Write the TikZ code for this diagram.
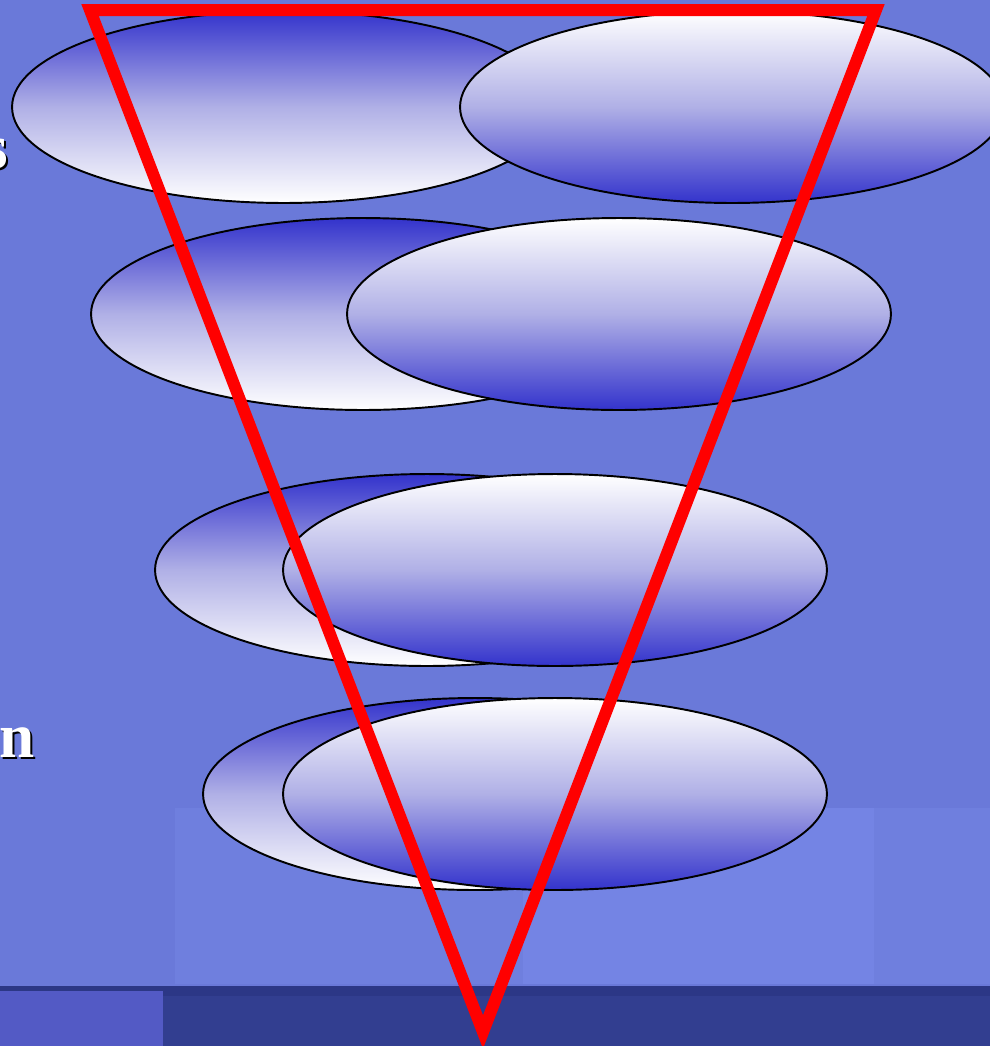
\documentclass[tikz,border=0pt]{standalone}
\usepackage{fontspec}
\setmainfont{Liberation Serif}
\usepackage{tikz}
\usetikzlibrary{shapes.geometric}

\definecolor{slidebg}{RGB}{106,121,217}
\definecolor{slidelight}{RGB}{111,127,222}
\definecolor{slidelighter}{RGB}{116,132,228}
\definecolor{slidenavy}{RGB}{50,62,144}
\definecolor{slidenavyline}{RGB}{44,55,134}
\definecolor{slidecorner}{RGB}{83,90,197}
\definecolor{lensblue}{RGB}{51,51,204}
\definecolor{lensmid}{RGB}{176,176,230}
\definecolor{funnelred}{RGB}{255,0,0}

\begin{document}
\begin{tikzpicture}[x=0.02cm,y=-0.02cm,
  lens/.style={ellipse,draw=black,line width=1.1pt,minimum width=10.88cm,minimum height=3.84cm,inner sep=0pt},
  lensup/.style={lens,top color=lensblue,bottom color=white,middle color=lensmid},
  lensdown/.style={lens,top color=white,bottom color=lensblue,middle color=lensmid},
  cutword/.style={font=\fontsize{36}{40}\selectfont\bfseries,inner sep=0pt,anchor=base east}]
\clip (0,0) rectangle (990,1046);
% slide background
\fill[slidebg] (0,0) rectangle (990,1046);
\fill[slidelight] (175,808) rectangle (523,984);
\fill[slidelighter] (523,808) rectangle (874,984);
\fill[slidelight] (874,808) rectangle (990,984);
\fill[slidenavyline] (0,986) rectangle (990,996);
\fill[slidenavy] (0,996) rectangle (990,1046);
\fill[slidecorner] (0,991) rectangle (163,1046);

% cut-off words at the left edge
\node[cutword,text=black] (sshadow) at (10,170) {s};
\node[cutword,text=white] (sword) at (8,168) {s};
\node[cutword,text=black] (onshadow) at (37,759) {on};
\node[cutword,text=white] (onword) at (35,757) {on};

% lenses
\node[lensup] (l1) at (284,107) {};
\node[lensdown] (r1) at (732,107) {};
\node[lensup] (l2) at (363,314) {};
\node[lensdown] (r2) at (619,314) {};
\node[lensup] (l3) at (427,570) {};
\node[lensdown] (r3) at (555,570) {};
\node[lensup] (l4) at (475,794) {};
\node[lensdown] (r4) at (555,794) {};

% funnel
\coordinate (ftl) at (90,10);
\coordinate (ftr) at (876,10);
\coordinate (fbot) at (483,1032);
\draw[funnelred,line width=0.24cm,line join=miter] (ftl) -- (ftr) -- (fbot) -- cycle;
\end{tikzpicture}
\end{document}
